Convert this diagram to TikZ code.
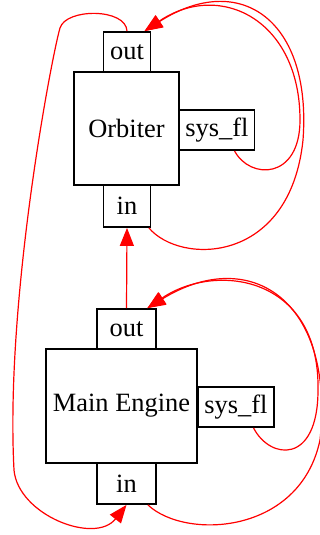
\documentclass[tikz,border=0pt]{standalone}
\usepackage{fontspec}
\setmainfont{Liberation Serif}
\usetikzlibrary{arrows.meta}

\tikzset{
  box/.style={draw, line width=0.9pt, inner sep=0pt, fill=white},
  flow/.style={red, line width=0.6pt, -{Triangle[length=9pt,width=7pt]}}
}

\begin{document}
\begin{tikzpicture}[x=0.5pt, y=-0.5pt, font=\fontsize{13.2}{15}\selectfont]
  \useasboundingbox (0,0) rectangle (320,535);

  % Orbiter block with its ports
  \node[box, minimum width=52.5pt, minimum height=56.5pt] (orb) at (126.5,128.5) {Orbiter};
  \node[box, minimum width=23.5pt, minimum height=20pt] (orbOut) at (127,52) {out};
  \node[box, minimum width=37.5pt, minimum height=20pt] (orbSys) at (217,130) {sys\_fl};
  \node[box, minimum width=23.5pt, minimum height=21pt] (orbIn) at (127,206) {in};

  % Main Engine block with its ports
  \node[box, minimum width=75.5pt, minimum height=57pt] (me) at (121.5,406) {Main Engine};
  \node[box, minimum width=29.5pt, minimum height=20pt] (meOut) at (126.5,329) {out};
  \node[box, minimum width=38pt, minimum height=20pt] (meSys) at (236,407) {sys\_fl};
  \node[box, minimum width=29.5pt, minimum height=20.5pt] (meIn) at (126.5,483.5) {in};

  % Engine out feeds the orbiter
  \draw[flow] (meOut.north) -- (orbIn.south);

  % Orbiter out loops back down the left side
  \draw[flow] (orbOut.north) .. controls (126,8) and (66,8) .. (60,28)
    .. controls (52,55) and (5,300) .. (14,470)
    .. controls (18,515) and (95,545) .. (meIn.south);

  % Orbiter loops on the right
  \draw[flow] (orbSys.-50) .. controls (250,180) and (300,180) .. (300,120)
    .. controls (300,20) and (220,-20) .. (orbOut.50);
  \draw[flow] (orbIn.-45) .. controls (180,265) and (290,265) .. (303,140)
    .. controls (312,20) and (240,-30) .. (orbOut.50);

  % Main Engine loops on the right
  \draw[flow] (meSys.-50) .. controls (270,460) and (318,465) .. (318,390)
    .. controls (320,275) and (215,262) .. (meOut.45);
  \draw[flow] (meIn.-45) .. controls (185,540) and (300,535) .. (320,440)
    .. controls (335,300) and (250,245) .. (meOut.45);
\end{tikzpicture}
\end{document}
